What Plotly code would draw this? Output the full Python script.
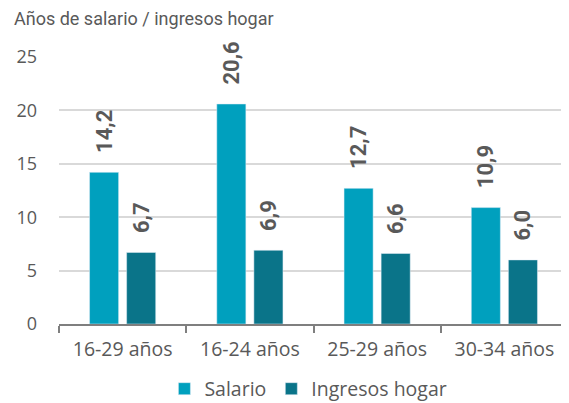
import plotly.graph_objects as go

categories = ["16-29 años", "16-24 años", "25-29 años", "30-34 años"]
salario = [14.2, 20.6, 12.7, 10.9]
ingresos = [6.7, 6.9, 6.6, 6.0]
salario_labels = ["14,2", "20,6", "12,7", "10,9"]
ingresos_labels = ["6,7", "6,9", "6,6", "6,0"]

FONT = "Roboto"
FONT2 = "Open Sans"
GRAY = "#595959"
PAD = "\u00a0\u00a0\u00a0"

fig = go.Figure()
fig.add_bar(x=categories, y=salario, name="Salario", marker_color="#00A0BE",
            text=[PAD + t for t in salario_labels], textposition="outside", textangle=-90,
            constraintext="none",
            textfont=dict(family=FONT, size=22, color=GRAY, weight="bold"),
            cliponaxis=False)
fig.add_bar(x=categories, y=ingresos, name="Ingresos hogar", marker_color="#0A7489",
            text=[PAD + t for t in ingresos_labels], textposition="outside", textangle=-90,
            constraintext="none",
            textfont=dict(family=FONT, size=22, color=GRAY, weight="bold"),
            cliponaxis=False)

fig.update_layout(
    width=561, height=395,
    margin=dict(l=51, r=1, t=49, b=79, autoexpand=False),
    paper_bgcolor="white", plot_bgcolor="white",
    barmode="group", bargap=0.417, bargroupgap=0.216,
    font=dict(family=FONT2, size=18, color=GRAY),
    legend=dict(orientation="h", x=0.49, xanchor="center", y=-65/267, yanchor="middle",
                font=dict(family=FONT2, size=19.5, color=GRAY),
                itemwidth=30, traceorder="normal"),
    showlegend=True,
    annotations=[dict(text="Años de salario / ingresos hogar", xref="paper", yref="paper",
                      x=-47 / 509, y=(316 - 10) / 267, xanchor="left", yanchor="middle",
                      showarrow=False, font=dict(family=FONT, size=18, color=GRAY))],
)
fig.update_xaxes(showline=True, linecolor="#7f7f7f", linewidth=2, automargin=False,
                 ticks="outside", tickson="boundaries", ticklen=7, tickcolor="#7f7f7f",
                 tickwidth=2, ticklabelstandoff=7,
                 tickfont=dict(family=FONT2, size=19.5, color=GRAY))
fig.update_yaxes(range=[0, 25], dtick=5, showgrid=True, gridcolor="#d9d9d9",
                 gridwidth=1.5, zeroline=False, ticks="", ticklabelstandoff=21,
                 automargin=False,
                 tickfont=dict(family=FONT2, size=18, color=GRAY))

fig.write_html("out.html")
